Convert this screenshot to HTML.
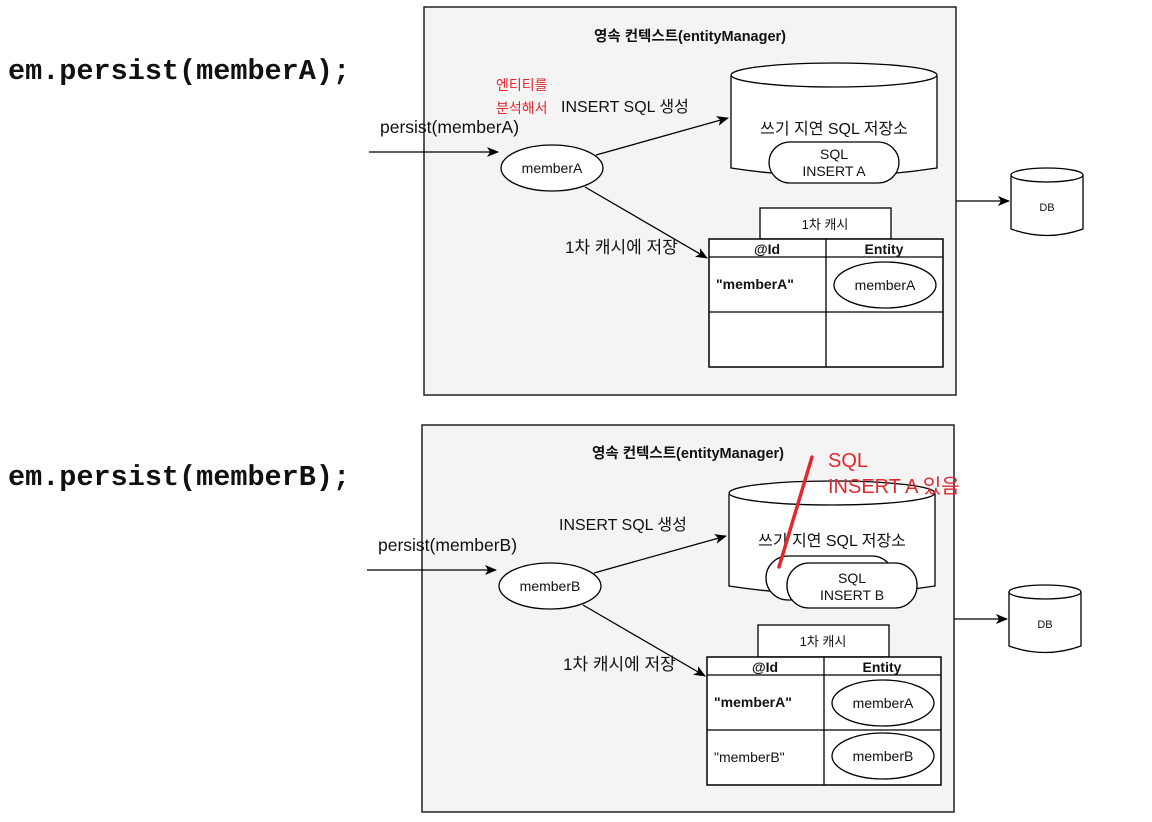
<!DOCTYPE html>
<html><head><meta charset="utf-8"><style>
html,body{margin:0;padding:0;background:#fff;width:1152px;height:822px;overflow:hidden}
svg text{font-family:"Liberation Sans","Noto Sans CJK KR",sans-serif;fill:#111}
.mono{font-family:"Liberation Mono",monospace;font-weight:bold;font-size:28.5px}
</style></head><body>
<svg width="1152" height="822" viewBox="0 0 1152 822" xmlns="http://www.w3.org/2000/svg">
<defs><marker id="ar" markerWidth="12" markerHeight="10" refX="11" refY="5" orient="auto" markerUnits="userSpaceOnUse"><path d="M0,0 L12,5 L0,10 L3,5 z" fill="#000"/></marker></defs>

<text x="8" y="79" class="mono">em.persist(memberA);</text>
<text x="8" y="485" class="mono">em.persist(memberB);</text>

<!-- Panel 1 -->
<rect x="424" y="7" width="532" height="388" fill="#f4f4f4" stroke="#222" stroke-width="1.5"/>
<text x="690" y="41" text-anchor="middle" font-size="14.5" font-weight="bold">영속 컨텍스트(entityManager)</text>
<text x="496" y="90" font-size="14" style="fill:#e0282e">엔티티를</text>
<text x="496" y="113" font-size="14" style="fill:#e0282e">분석해서</text>
<text x="561" y="112" font-size="16">INSERT SQL 생성</text>
<text x="380" y="133" font-size="17.5">persist(memberA)</text>
<line x1="369" y1="152" x2="498" y2="152" stroke="#000" stroke-width="1.3" marker-end="url(#ar)"/>
<ellipse cx="552" cy="168" rx="51" ry="23" fill="#fff" stroke="#000" stroke-width="1.3"/>
<text x="552" y="173" text-anchor="middle" font-size="14">memberA</text>
<line x1="596" y1="155" x2="728" y2="118" stroke="#000" stroke-width="1.3" marker-end="url(#ar)"/>
<path d="M731,76 L731,168 Q834,184 937,168 L937,76" fill="#fff" stroke="#000" stroke-width="1.3"/>
<ellipse cx="834" cy="75" rx="103" ry="12" fill="#fff" stroke="#000" stroke-width="1.3"/>
<text x="834" y="134" text-anchor="middle" font-size="16">쓰기 지연 SQL 저장소</text>
<rect x="769" y="142" width="130" height="41" rx="21" fill="#fff" stroke="#000" stroke-width="1.3"/>
<text x="834" y="159" text-anchor="middle" font-size="14">SQL</text>
<text x="834" y="176" text-anchor="middle" font-size="14">INSERT A</text>
<line x1="585" y1="187" x2="707" y2="258" stroke="#000" stroke-width="1.3" marker-end="url(#ar)"/>
<text x="565" y="253" font-size="17">1차 캐시에 저장</text>
<rect x="760" y="208" width="131" height="31" fill="#fff" stroke="#000" stroke-width="1.3"/>
<text x="825" y="229" text-anchor="middle" font-size="13">1차 캐시</text>
<rect x="709" y="239" width="234" height="128" fill="#fff" stroke="#000" stroke-width="1.5"/>
<line x1="709" y1="257" x2="943" y2="257" stroke="#000" stroke-width="1.3"/>
<line x1="709" y1="312" x2="943" y2="312" stroke="#000" stroke-width="1.3"/>
<line x1="826" y1="239" x2="826" y2="367" stroke="#000" stroke-width="1.3"/>
<text x="767" y="254" text-anchor="middle" font-size="14" font-weight="bold">@Id</text>
<text x="884" y="254" text-anchor="middle" font-size="14" font-weight="bold">Entity</text>
<text x="716" y="289" font-size="14" font-weight="bold">"memberA"</text>
<ellipse cx="885" cy="285" rx="51" ry="23" fill="#fff" stroke="#000" stroke-width="1.3"/>
<text x="885" y="290" text-anchor="middle" font-size="14">memberA</text>
<line x1="956" y1="201" x2="1009" y2="201" stroke="#000" stroke-width="1.3" marker-end="url(#ar)"/>
<path d="M1011,175 L1011,229 Q1047,242 1083,229 L1083,175" fill="#fff" stroke="#000" stroke-width="1.3"/>
<ellipse cx="1047" cy="175" rx="36" ry="7" fill="#fff" stroke="#000" stroke-width="1.3"/>
<text x="1047" y="211" text-anchor="middle" font-size="11">DB</text>

<!-- Panel 2 -->
<rect x="422" y="425" width="532" height="387" fill="#f4f4f4" stroke="#222" stroke-width="1.5"/>
<text x="688" y="458" text-anchor="middle" font-size="14.5" font-weight="bold">영속 컨텍스트(entityManager)</text>
<text x="559" y="530" font-size="16">INSERT SQL 생성</text>
<text x="378" y="551" font-size="17.5">persist(memberB)</text>
<line x1="367" y1="570" x2="496" y2="570" stroke="#000" stroke-width="1.3" marker-end="url(#ar)"/>
<ellipse cx="550" cy="586" rx="51" ry="23" fill="#fff" stroke="#000" stroke-width="1.3"/>
<text x="550" y="591" text-anchor="middle" font-size="14">memberB</text>
<line x1="594" y1="573" x2="726" y2="536" stroke="#000" stroke-width="1.3" marker-end="url(#ar)"/>
<path d="M729,494 L729,586 Q832,602 935,586 L935,494" fill="#fff" stroke="#000" stroke-width="1.3"/>
<ellipse cx="832" cy="493" rx="103" ry="12" fill="#fff" stroke="#000" stroke-width="1.3"/>
<text x="832" y="546" text-anchor="middle" font-size="16">쓰기 지연 SQL 저장소</text>
<rect x="766" y="556" width="128" height="44" rx="22" fill="#fff" stroke="#000" stroke-width="1.3"/>
<rect x="787" y="563" width="130" height="45" rx="22" fill="#fff" stroke="#000" stroke-width="1.3"/>
<text x="852" y="583" text-anchor="middle" font-size="14">SQL</text>
<text x="852" y="600" text-anchor="middle" font-size="14">INSERT B</text>
<line x1="812" y1="457" x2="779" y2="567" stroke="#e0282e" stroke-width="3.5" stroke-linecap="round"/>
<text x="828" y="467" font-size="20" style="fill:#e0282e">SQL</text>
<text x="828" y="493" font-size="20" style="fill:#e0282e">INSERT A 있음</text>
<line x1="583" y1="605" x2="705" y2="676" stroke="#000" stroke-width="1.3" marker-end="url(#ar)"/>
<text x="563" y="670" font-size="17">1차 캐시에 저장</text>
<rect x="758" y="625" width="131" height="32" fill="#fff" stroke="#000" stroke-width="1.3"/>
<text x="823" y="646" text-anchor="middle" font-size="13">1차 캐시</text>
<rect x="707" y="657" width="234" height="128" fill="#fff" stroke="#000" stroke-width="1.5"/>
<line x1="707" y1="675" x2="941" y2="675" stroke="#000" stroke-width="1.3"/>
<line x1="707" y1="730" x2="941" y2="730" stroke="#000" stroke-width="1.3"/>
<line x1="824" y1="657" x2="824" y2="785" stroke="#000" stroke-width="1.3"/>
<text x="765" y="672" text-anchor="middle" font-size="14" font-weight="bold">@Id</text>
<text x="882" y="672" text-anchor="middle" font-size="14" font-weight="bold">Entity</text>
<text x="714" y="707" font-size="14" font-weight="bold">"memberA"</text>
<ellipse cx="883" cy="703" rx="51" ry="23" fill="#fff" stroke="#000" stroke-width="1.3"/>
<text x="883" y="708" text-anchor="middle" font-size="14">memberA</text>
<text x="714" y="762" font-size="14">"memberB"</text>
<ellipse cx="883" cy="756" rx="51" ry="23" fill="#fff" stroke="#000" stroke-width="1.3"/>
<text x="883" y="761" text-anchor="middle" font-size="14">memberB</text>
<line x1="954" y1="619" x2="1007" y2="619" stroke="#000" stroke-width="1.3" marker-end="url(#ar)"/>
<path d="M1009,592 L1009,646 Q1045,659 1081,646 L1081,592" fill="#fff" stroke="#000" stroke-width="1.3"/>
<ellipse cx="1045" cy="592" rx="36" ry="7" fill="#fff" stroke="#000" stroke-width="1.3"/>
<text x="1045" y="628" text-anchor="middle" font-size="11">DB</text>
</svg>
</body></html>
